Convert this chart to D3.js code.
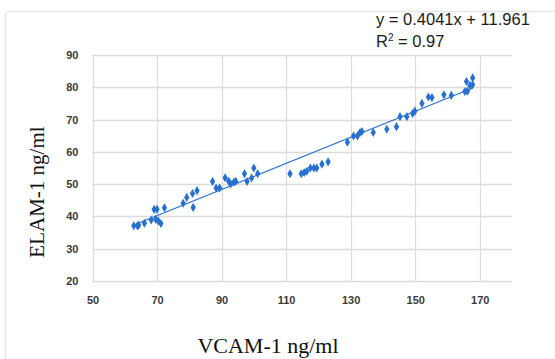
<!DOCTYPE html>
<html>
<head>
<meta charset="utf-8">
<script src="https://cdn.jsdelivr.net/npm/d3@7/dist/d3.min.js"></script>
<style>
  body { margin: 0; background: #fff; }
  svg { display: block; }
</style>
</head>
<body>
<svg id="chart" width="555" height="359"></svg>
<script>
// VCAM-1 (x) vs ELAM-1 (y)
const vcam = [62.8, 63.9, 64.3, 66.1, 68.2, 69.1, 70.0, 69.6, 70.4, 71.2, 72.3,
  78.1, 79.2, 81.0, 82.4, 81.2, 87.2, 88.3, 89.4, 91.1, 92.2, 92.8, 93.8, 94.4,
  97.1, 97.9, 99.3, 100.0, 101.2, 111.2, 114.7, 115.6, 116.4, 117.5, 118.6, 119.5,
  121.1, 123.0, 129.0, 130.9, 132.1, 132.9, 133.5, 137.0, 141.2, 144.2, 145.3,
  147.4, 149.2, 149.9, 152.1, 154.1, 155.2, 158.9, 161.2, 165.4, 166.2, 165.9,
  167.0, 167.8, 167.8];
const elam = [37.1, 37.1, 37.3, 37.9, 38.9, 42.2, 42.2, 39.1, 38.6, 37.8, 42.7,
  44.1, 45.9, 47.1, 48.0, 42.8, 50.8, 48.8, 48.8, 52.0, 50.9, 50.1, 50.6, 50.9,
  53.2, 50.8, 51.9, 55.0, 53.2, 53.2, 53.2, 53.6, 54.0, 55.0, 55.0, 55.0,
  56.2, 56.9, 63.0, 64.9, 64.9, 66.0, 66.3, 66.0, 67.0, 67.8, 70.9,
  70.9, 71.9, 72.6, 75.0, 77.0, 76.8, 77.7, 77.5, 78.7, 78.8, 81.8,
  80.6, 80.8, 82.9];
const xTicks = [50, 70, 90, 110, 130, 150, 170];
const yTicks = [20, 30, 40, 50, 60, 70, 80, 90];
const slope = 0.4041, intercept = 11.961;
const trendX = [d3.min(vcam), d3.max(vcam)];

const svg = d3.select("#chart");
const blue = "#2770cf";

// outer chart border
svg.append("rect")
  .attr("x", 5.5).attr("y", 11.5)
  .attr("width", 600).attr("height", 400)
  .attr("rx", 4)
  .attr("fill", "none")
  .attr("stroke", "#e6e6e6")
  .attr("stroke-width", 1.5);

const x = d3.scaleLinear().domain([50, 180]).range([92.5, 512]);
const y = d3.scaleLinear().domain([20, 90]).range([281, 55]);

// gridlines
svg.append("g").selectAll("line").data(yTicks).join("line")
  .attr("x1", x(50)).attr("x2", x(180))
  .attr("y1", d => Math.round(y(d)) + 0.5).attr("y2", d => Math.round(y(d)) + 0.5)
  .attr("stroke", "#dcdcdc").attr("stroke-width", 1.3);
svg.append("g").selectAll("line").data(xTicks).join("line")
  .attr("x1", d => Math.round(x(d)) + 0.5).attr("x2", d => Math.round(x(d)) + 0.5)
  .attr("y1", y(90)).attr("y2", y(20))
  .attr("stroke", "#dcdcdc").attr("stroke-width", 1.3);

// axes (labels only)
const xAxis = svg.append("g")
  .attr("transform", "translate(0," + y(20) + ")")
  .call(d3.axisBottom(x).tickValues(xTicks).tickSize(0).tickPadding(15));
const yAxis = svg.append("g")
  .attr("transform", "translate(" + x(50) + ",0)")
  .call(d3.axisLeft(y).tickValues(yTicks).tickSize(0).tickPadding(14));
[xAxis, yAxis].forEach(g => {
  g.select(".domain").remove();
  g.selectAll("text")
    .attr("font-family", "Liberation Sans, Arial, sans-serif")
    .attr("font-size", 11)
    .attr("font-weight", "bold")
    .attr("fill", "#3a3a3a");
});

// trendline
svg.append("line")
  .attr("x1", x(trendX[0])).attr("y1", y(slope * trendX[0] + intercept))
  .attr("x2", x(trendX[1])).attr("y2", y(slope * trendX[1] + intercept))
  .attr("stroke", blue).attr("stroke-width", 1.2);

// points (diamonds)
const diamond = d3.symbol().type(d3.symbolDiamond).size(24);
svg.append("g").selectAll("path").data(vcam).join("path")
  .attr("d", diamond)
  .attr("transform", (d, i) => "translate(" + x(d) + "," + y(elam[i]) + ")")
  .attr("fill", blue);

// equation
const eq = svg.append("g")
  .attr("font-family", "Liberation Sans, Arial, sans-serif")
  .attr("font-size", 16.5)
  .attr("fill", "#1a1a1a");
eq.append("text").attr("x", 376).attr("y", 24.5)
  .text("y = " + slope + "x + " + intercept);
const r2 = eq.append("text").attr("x", 376).attr("y", 47);
r2.append("tspan").text("R");
r2.append("tspan").attr("dy", -6).attr("font-size", 10).text("2");
r2.append("tspan").attr("dy", 6).text(" = 0.97");

// axis titles
svg.append("text")
  .attr("x", 268).attr("y", 353)
  .attr("text-anchor", "middle")
  .attr("font-family", "Liberation Serif, Times New Roman, serif")
  .attr("font-size", 22)
  .attr("fill", "#111")
  .text("VCAM-1 ng/ml");
svg.append("text")
  .attr("transform", "translate(44,192) rotate(-90)")
  .attr("text-anchor", "middle")
  .attr("font-family", "Liberation Serif, Times New Roman, serif")
  .attr("font-size", 21)
  .attr("fill", "#111")
  .text("ELAM-1 ng/ml");
</script>
</body>
</html>
